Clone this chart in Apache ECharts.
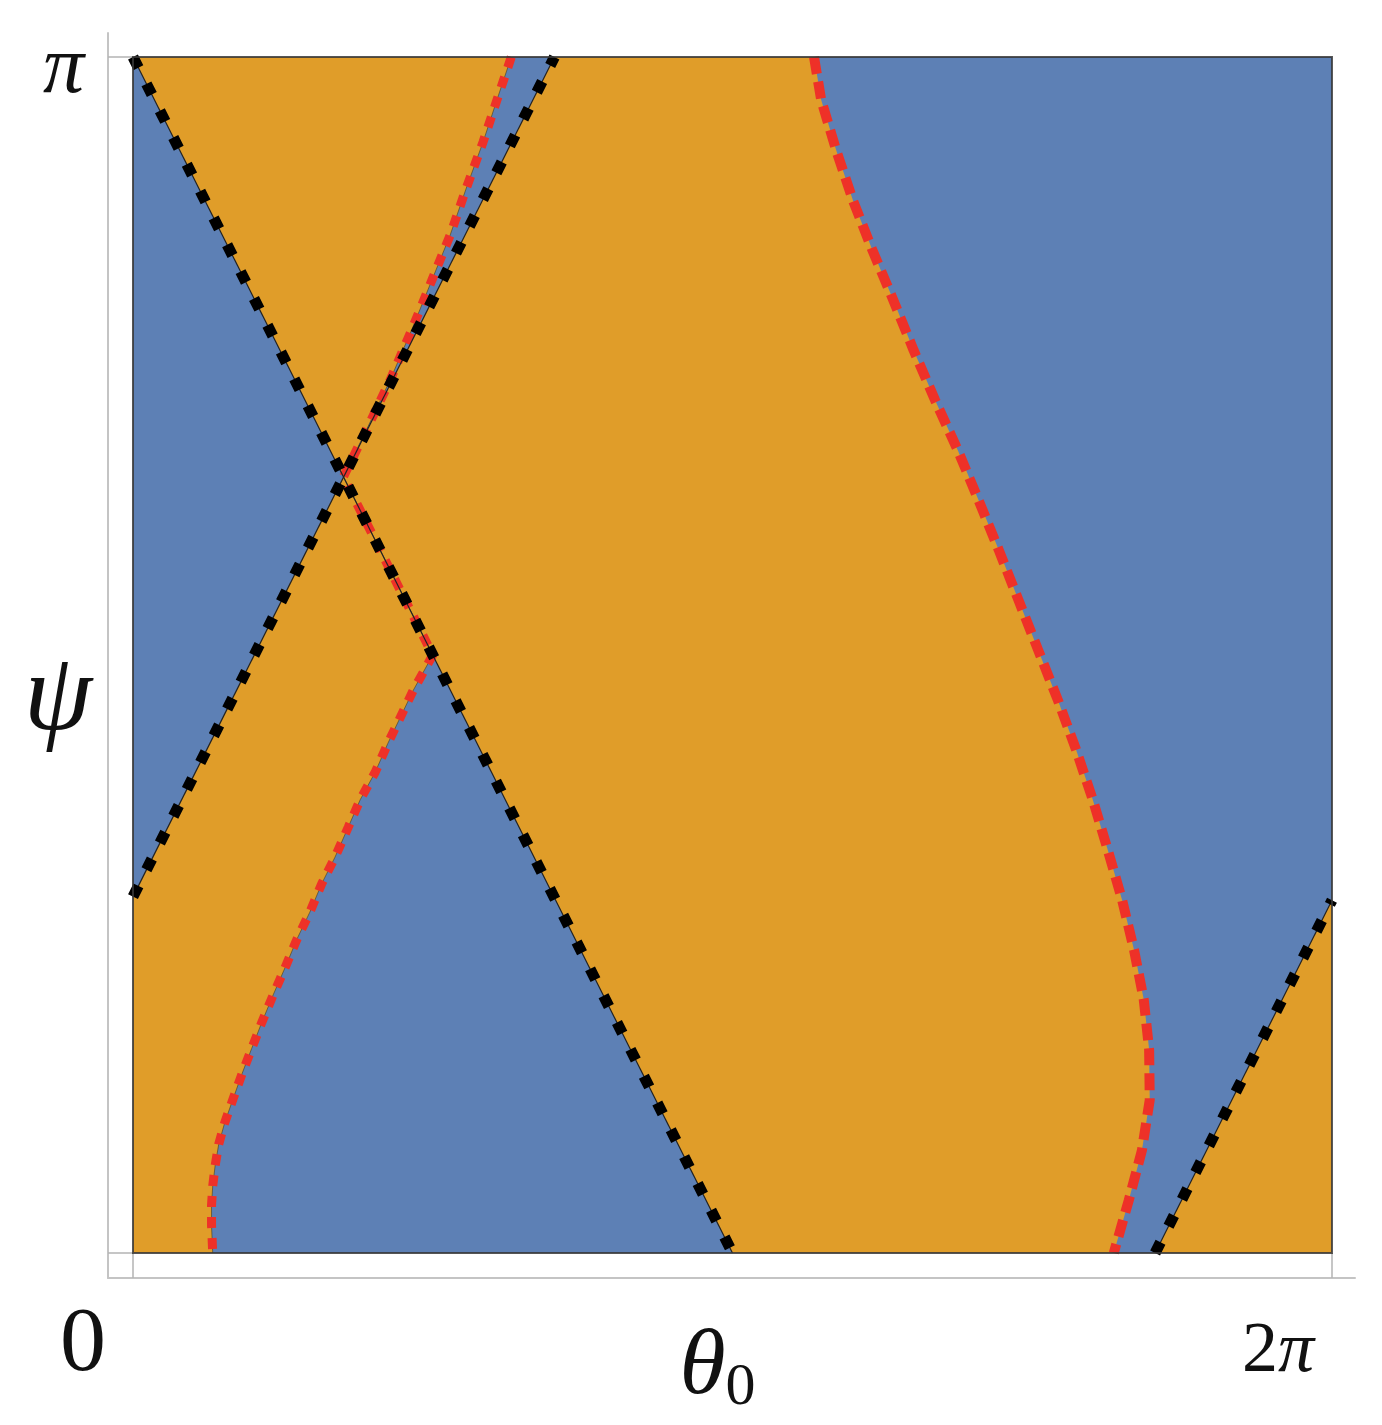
<!DOCTYPE html>
<html>
<head>
<meta charset="utf-8">
<title>θ0 ψ regions</title>
<script src="https://cdn.jsdelivr.net/npm/echarts@6.0.0/dist/echarts.min.js"></script>
<style>
  html,body{margin:0;padding:0;background:#fff;}
  #chart{width:1382px;height:1425px;}
</style>
</head>
<body>
<div id="chart"></div>
<script>
// every value is in units of pi:  theta0/pi in [0,2], psi/pi in [0,1]
const xTicks = [0, 2]
const yTicks = [0, 1]
const xTickText = {0: "{z|0}", 2: "{n|2}{p|π}"}
const yTickText = {1: "{p|π}"}

// black dashed straight lines
const lineDown = [[0, 1], [1, 0]]
const lineUp = [[0, 0.298], [0.703, 1]]
const lineUpWrap = [[1.705, 0], [2, 0.295]]
const crossing = [0.351, 0.649]
const apex = [0.5, 0.5]

// red dashed curve on the left (top -> crossing -> apex -> bottom)
const redLeftTop = [
  [0.631, 1.0], [0.607, 0.964], [0.584, 0.929], [0.555, 0.889], [0.529, 0.851],
  [0.499, 0.814], [0.465, 0.772], [0.429, 0.730], [0.392, 0.691]
]
const redLeftMid = [[0.40, 0.60], [0.45, 0.55]]
const redLeftLow = [
  [0.467, 0.470], [0.425, 0.426], [0.404, 0.402], [0.379, 0.379], [0.359, 0.356],
  [0.337, 0.331], [0.315, 0.309], [0.295, 0.285], [0.274, 0.263], [0.254, 0.239],
  [0.234, 0.216], [0.215, 0.193], [0.198, 0.171], [0.182, 0.150], [0.167, 0.129],
  [0.153, 0.109], [0.143, 0.091], [0.137, 0.073], [0.133, 0.056], [0.131, 0.040],
  [0.131, 0.023], [0.133, 0.0]
]

// red dashed curve on the right (top -> bottom)
const redRight = [
  [1.136, 1.0], [1.148, 0.964], [1.173, 0.922], [1.201, 0.880], [1.233, 0.839],
  [1.268, 0.797], [1.302, 0.755], [1.338, 0.713], [1.376, 0.671], [1.410, 0.630],
  [1.444, 0.588], [1.477, 0.546], [1.510, 0.504], [1.543, 0.462], [1.573, 0.421],
  [1.601, 0.379], [1.626, 0.337], [1.650, 0.295], [1.670, 0.253], [1.686, 0.212],
  [1.695, 0.170], [1.696, 0.128], [1.683, 0.086], [1.661, 0.044], [1.636, 0.0]
]

const blue = "#5d80b5"
const orange = "#e09d29"
const red = "#ee3128"
const serif = "'Liberation Serif','DejaVu Serif',serif"

// regions (blue = whole box, orange on top)
const box = [[0, 0], [2, 0], [2, 1], [0, 1]]
const orangeRegions = [
  [[0, 1]].concat(redLeftTop, [crossing]),
  [[0, 0], lineUp[0], crossing, apex].concat(redLeftLow),
  [lineUp[1]].concat(redRight, [lineDown[1], crossing]),
  [lineUpWrap[0], [2, 0], lineUpWrap[1]]
]
const redLeft = redLeftTop.concat([crossing], redLeftMid, [apex], redLeftLow)

function polygons(list, fill, stroke, lw) {
  return function (params, api) {
    let pts = list[params.dataIndex].map(p => api.coord(p))
    return {
      type: "polygon",
      shape: {points: pts},
      style: {fill: fill, stroke: stroke, lineWidth: lw}
    }
  }
}

function dashLine(name, data, color, width, dash, z) {
  return {
    name: name, type: "line", data: data, z: z,
    showSymbol: false, symbol: "none", silent: true, clip: false,
    lineStyle: {color: color, width: width, type: dash, cap: "butt"}
  }
}

let myChart = echarts.init(document.getElementById("chart"))
myChart.setOption({
  animation: false,
  grid: {left: 108, right: 27, top: 33, bottom: 147, outerBoundsMode: "none", containLabel: false},
  xAxis: {
    type: "value", min: -0.0417, max: 2.0384,
    axisLine: {show: true, onZero: false, lineStyle: {color: "#c4c4c4", width: 2}},
    axisTick: {show: true, inside: true, length: 25, customValues: xTicks,
      lineStyle: {color: "#b4b4b4", width: 1.5}},
    splitLine: {show: false},
    axisLabel: {
      customValues: xTicks, margin: 22, align: "right",
      formatter: v => xTickText[v] || "",
      rich: {
        z: {fontFamily: serif, fontSize: 92, color: "#111", padding: [0, 27, 0, 0]},
        n: {fontFamily: serif, fontSize: 72, color: "#111", padding: [16, 0, 0, 0]},
        p: {fontFamily: serif, fontSize: 72, fontStyle: "italic", color: "#111", padding: [16, 18, 0, 0]}
      }
    },
    name: "{t|θ}{s|0}", nameLocation: "middle", nameGap: 40, nameMoveOverlap: false,
    nameTextStyle: {
      padding: [0, 28, 0, 0],
      rich: {
        t: {fontFamily: serif, fontSize: 94, fontStyle: "italic", color: "#111"},
        s: {fontFamily: serif, fontSize: 60, color: "#111", padding: [40, 0, 0, 0]}
      }
    }
  },
  yAxis: {
    type: "value", min: -0.0209, max: 1.0201,
    axisLine: {show: true, onZero: false, lineStyle: {color: "#c4c4c4", width: 2}},
    axisTick: {show: true, inside: true, length: 25, customValues: yTicks,
      lineStyle: {color: "#b4b4b4", width: 1.5}},
    splitLine: {show: false},
    axisLabel: {
      customValues: [1], margin: 24,
      formatter: v => yTickText[v] || "",
      rich: {
        p: {fontFamily: serif, fontSize: 82, fontStyle: "italic", color: "#111", padding: [26, 0, 0, 0]}
      }
    },
    name: "ψ", nameLocation: "middle", nameRotate: 0, nameGap: 16, nameMoveOverlap: false,
    nameTextStyle: {fontFamily: serif, fontSize: 110, fontStyle: "italic", color: "#111",
      verticalAlign: "top", lineHeight: 90}
  },
  series: [
    {
      type: "custom", z: 1, silent: true, data: [box[0]],
      renderItem: polygons([box], blue, null, 0)
    },
    {
      type: "custom", z: 2, silent: true, data: orangeRegions.map(r => r[0]),
      renderItem: polygons(orangeRegions, orange, null, 0)
    },
    dashLine("redLeftThin", redLeft, "rgba(70,60,30,0.6)", 1, "solid", 3),
    dashLine("redLeft", redLeft, red, 9, [11, 10], 3),
    dashLine("redRight", redRight, red, 10, [17, 8], 3),
    dashLine("downThin", lineDown, "#222", 1.2, "solid", 4),
    dashLine("upThin", lineUp, "#222", 1.2, "solid", 4),
    dashLine("wrapThin", lineUpWrap, "#222", 1.2, "solid", 4),
    dashLine("down", lineDown, "#000", 11, [12, 18], 5),
    dashLine("up", lineUp, "#000", 11, [12, 18], 5),
    dashLine("wrap", lineUpWrap, "#000", 11, [12, 18], 5),
    {
      // frame around the plotted box
      type: "custom", z: 6, silent: true, data: [box[0]],
      renderItem: polygons([box], "none", "rgba(55,55,55,0.85)", 2)
    }
  ]
})
</script>
</body>
</html>
